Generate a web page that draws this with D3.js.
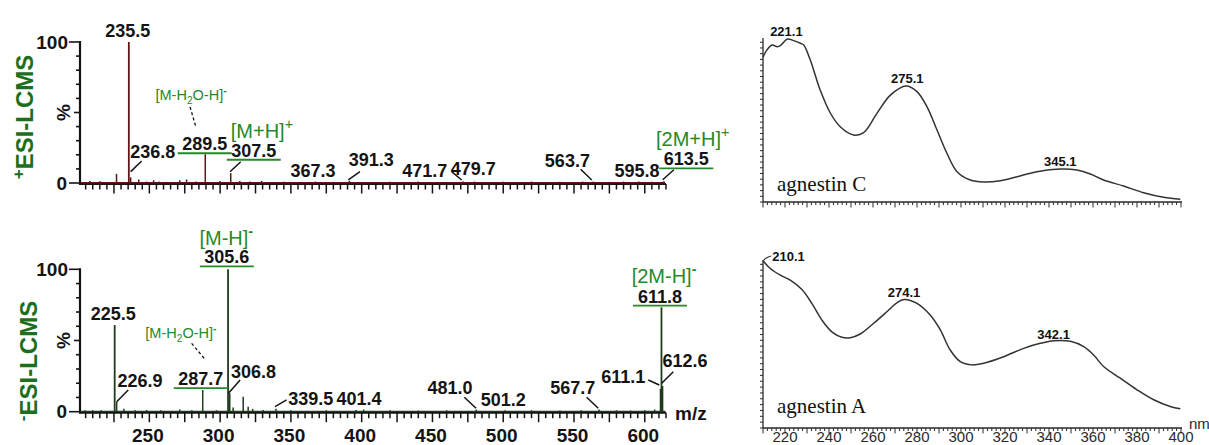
<!DOCTYPE html>
<html><head><meta charset="utf-8">
<script src="https://cdn.jsdelivr.net/npm/d3@7"></script>
<style>
body{margin:0;background:#fff}
svg{display:block}
text{font-family:"Liberation Sans",Arial,Helvetica,sans-serif}
text.serif{font-family:"Liberation Serif","Times New Roman",serif}
</style>
</head><body>
<svg id="c" width="1209" height="445"></svg>
<script>
// ---------------- DATA ----------------
const msTickLabels = [250, 300, 350, 400, 450, 500, 550, 600];
// +ESI labelled peaks [m/z, relative %]
const posPeaks = [[235.5,100],[236.8,4],[289.5,20.4],[307.5,7],[367.3,1],[391.3,1.5],[471.7,1],[479.7,1],[563.7,1],[595.8,1],[613.5,1.2]];
// +ESI unlabelled small peaks
const posNoise = [[207.9,1.5],[215,1.2],[226.8,6.5],[242.5,2.5],[248,1],[253,2],[257,1],[262,0.8],[271.5,2],[276.3,2.5],[283,1],[299.8,1.5],[313.9,1.5],[321,1],[329.3,1.5],[345,0.8],[380,0.8],[420,0.8],[440,1],[500,0.8],[520,1],[540,0.8],[556,1],[575,0.8],[585,1],[605,0.8]];
// -ESI labelled peaks
const negPeaks = [[225.5,60.9],[226.9,7],[287.7,15.2],[305.6,100],[306.8,13],[339.5,2],[401.4,1.5],[481.0,1.5],[501.2,1],[567.7,1.5],[611.1,16],[611.8,73.3],[612.6,18]];
// -ESI unlabelled small peaks
const negNoise = [[204.5,1],[210,1],[216,1],[232,2],[240,1],[248,1.2],[258,1],[271.5,1.5],[280,1],[297.5,1],[309.2,3],[316.3,10.5],[319.8,3.5],[323,2],[330.4,1.2],[350,1],[375,1],[396,1.2],[420,1],[440,0.8],[460,1],[520,1],[540,0.8],[555,1],[580,1],[590,0.8],[600,1],[607,1.5]];

// UV spectra (nm, relative absorbance)
const uvC_nm  = [210,211.8,214.1,216.4,217.9,221.1,223.9,227,228.5,231.5,236,240.6,245.1,251.2,255.7,261.8,267.9,275.1,280,284.5,289.1,293.6,298.2,304.2,310.3,317.9,325.5,334.5,345.1,352.7,358.8,364.8,373.9,383,392.1,399.7];
const uvC_abs = [88.8,93.3,96.3,95.3,95.9,100,99,97.4,96.3,87.1,68.7,54.6,46.2,41.1,42.5,54.4,65.6,71.2,67.7,58.5,44.2,29.9,18.6,13.5,12.3,13.1,15.5,18.6,20.2,19.6,17.2,13.5,9.8,5.7,2.9,1.7];
const uvA_nm  = [210.1,213.3,217.9,222.4,227.7,232.2,236.8,241.3,245.9,249.7,254.2,260.2,266.3,270.8,274.1,280,286,290.6,295.1,299.7,305,310.3,319.4,328.5,336,342.1,349.7,355.8,360.3,364.8,372.4,380,387.6,395.1,399.7];
const uvA_abs = [100,95.5,91.5,88.5,82.9,74.6,64.6,57.6,54.3,54.1,56.3,62.6,69.6,74.9,77,74.6,67.6,58.7,46.7,39.7,37.8,38.8,42.7,47.7,50.7,52.3,51.9,48.7,43.7,36.8,29.8,22.9,16.9,12.9,11.5];
const uvTickLabels = [220,240,260,280,300,320,340,360,380,400];
const uvC_peaks = [221.1, 275.1, 345.1];
const uvA_peaks = [210.1, 274.1, 342.1];

// ---------------- LAYOUT / STYLE ----------------
const GREEN = "#23892a", DKGREEN = "#1d6f1d", POSCOL = "#641414", NEGCOL = "#1e3b1e", INK = "#141414";
const svg = d3.select("#c");

// label offsets relative to peak top (layout only)
const posLayout = {
  "235.5":{dx:-1,dy:-5},
  "236.8":{dx:22,dy:-19,lead:[0,-5.7,11,-16.4]},
  "289.5":{dx:-0.5,dy:-4,ul:true,ion:{parts:"mh2o",dx:-13.7,dy:-50,anchor:"middle",size:14.5},dash:[-14.7,-43.3,-8.7,-22.7]},
  "307.5":{dx:23,dy:-16.4,lead:[-0.7,-1.4,10,-11.4],ul:true,ion:{parts:"mph",dx:-23,dy:-18.4,anchor:"start",size:20}},
  "367.3":{dx:-2.4,dy:-5},
  "391.3":{dx:22,dy:-15.2,lead:[-1,-1,10.6,-9.2]},
  "471.7":{dx:-38.5,dy:-5,lead:[-11.5,-9.9,-1.5,-1.6]},
  "479.7":{dx:-1.2,dy:-6.6},
  "563.7":{dx:-26,dy:-14.3,lead:[-12.7,-12.3,-1.7,-1.6]},
  "595.8":{dx:-1.8,dy:-5},
  "613.5":{dx:22.4,dy:-15.9,lead:[-1.2,-1.6,10,-11.6],ul:true,ion:{parts:"2mph",dx:-30.3,dy:-19,anchor:"start",size:20}}
};
const negLayout = {
  "225.5":{dx:-1.4,dy:-5},
  "226.9":{dx:23.3,dy:-15,lead:[0,0,11.6,-11.7]},
  "287.7":{dx:-2,dy:-5,ul:true,ion:{parts:"mh2o",dx:-19.8,dy:-46.7,anchor:"middle",size:14.5},dash:[-9.1,-41.7,4.9,-25]},
  "305.6":{dx:-1.2,dy:-6,ul:true,ion:{parts:"mmh",dx:-27.4,dy:-18.8,anchor:"start",size:20}},
  "306.8":{dx:23.7,dy:-14.9,lead:[-1.3,0,10.4,-13.2]},
  "339.5":{dx:34.8,dy:-3.9,lead:[-1,-2.2,10.6,-8.9]},
  "401.4":{dx:-4.7,dy:-4.6},
  "481.0":{dx:-26.3,dy:-15.3,lead:[-12,-12.3,-0.3,-1.3]},
  "501.2":{dx:-1.6,dy:-4.3},
  "567.7":{dx:-26.3,dy:-15.3,lead:[-12.4,-12.3,-0.8,-1.3]},
  "611.1":{dx:-37.2,dy:-5.6,lead:[-12.2,-8.9,-1.2,-3.9]},
  "611.8":{dx:-1.5,dy:-4.6,ul:true,ion:{parts:"2mmh",dx:-28.3,dy:-19.4,anchor:"start",size:20}},
  "612.6":{dx:22.4,dy:-19.4,lead:[-0.9,-2.8,10.7,-14.4]}
};

function ionText(g, x, y, kind, anchor, size){
  const t = g.append("text").attr("x",x).attr("y",y).attr("text-anchor",anchor)
    .attr("fill",GREEN).attr("font-size",size);
  const sub = size*0.7, sup = size*0.72;
  if(kind==="mh2o"){
    t.append("tspan").text("[M-H");
    t.append("tspan").attr("font-size",sub).attr("dy",size*0.28).text("2");
    t.append("tspan").attr("dy",-size*0.28).text("O-H]");
    t.append("tspan").attr("font-size",sup).attr("font-weight","bold").attr("dy",-size*0.42).text("-");
  } else {
    const base = {mph:"[M+H]",mmh:"[M-H]","2mph":"[2M+H]","2mmh":"[2M-H]"}[kind];
    const s = (kind==="mph"||kind==="2mph") ? "+" : "-";
    t.append("tspan").text(base);
    t.append("tspan").attr("font-size",sup).attr("font-weight", s==="-"?"bold":"normal").attr("dy",-size*0.45).text(s);
  }
}

function msPanel(cfg){
  const x = d3.scaleLinear().domain([201,615]).range([80,666]);
  const y = d3.scaleLinear().domain([0,100]).range([cfg.y0, cfg.y100]);
  const g = svg.append("g");
  // y axis ticks
  const yt = d3.range(0,101,10);
  g.selectAll(null).data(yt).enter().append("line")
    .attr("x1",80).attr("x2",d=> d===0||d===100 ? 69 : (d===50?74:76))
    .attr("y1",d=>y(d)).attr("y2",d=>y(d)).attr("stroke",INK).attr("stroke-width",1.6);
  g.append("line").attr("x1",80).attr("x2",80).attr("y1",y(100)-1).attr("y2",y(0)+1.5)
    .attr("stroke",INK).attr("stroke-width",2.2);
  g.append("text").attr("x",68).attr("y",y(100)+6.5).attr("text-anchor","end")
    .attr("font-size",19).attr("font-weight","bold").attr("fill",INK).text("100");
  g.append("text").attr("x",67).attr("y",y(0)+6.5).attr("text-anchor","end")
    .attr("font-size",19).attr("font-weight","bold").attr("fill",INK).text("0");
  g.append("text").attr("transform",`translate(${70},${y(50)}) rotate(-90)`).attr("text-anchor","middle")
    .attr("font-size",19).attr("font-weight","bold").attr("fill",INK).text("%");
  // x axis
  const axY = y(0)+1;
  const minor = d3.range(205,615.1,5);
  g.selectAll(null).data(minor).enter().append("line")
    .attr("x1",d=>x(d)).attr("x2",d=>x(d)).attr("y1",axY)
    .attr("y2",d=> d%25===0 ? axY+9.5 : axY+5.5).attr("stroke",INK).attr("stroke-width",1.5);
  g.append("line").attr("x1",79).attr("x2",666).attr("y1",axY).attr("y2",axY).attr("stroke",INK).attr("stroke-width",2.2);
  // baseline of spectrum
  g.append("line").attr("x1",81).attr("x2",665).attr("y1",y(0)-0.3).attr("y2",y(0)-0.3).attr("stroke",cfg.color).attr("stroke-width",1.4);
  if(cfg.tickLabels){
    g.selectAll(null).data(msTickLabels).enter().append("text")
      .attr("x",d=>x(d)-1.5).attr("y",441.7).attr("text-anchor","middle")
      .attr("font-size",19).attr("font-weight","bold").attr("fill",INK).text(d=>d);
    g.append("text").attr("x",675).attr("y",419.5).attr("font-size",19).attr("font-weight","bold").attr("fill",INK).text("m/z");
  }
  // peaks
  const all = cfg.noise.concat(cfg.peaks);
  g.selectAll(null).data(all).enter().append("line")
    .attr("x1",d=>x(d[0])).attr("x2",d=>x(d[0])).attr("y1",y(0)).attr("y2",d=>y(d[1]))
    .attr("stroke",cfg.color).attr("stroke-width",d=>d[1]>30?1.8:1.5);
  // labels
  cfg.peaks.forEach(p=>{
    const key = p[0].toFixed(1), L = cfg.layout[key];
    if(!L) return;
    const px = x(p[0]), py = y(p[1]);
    const lx = px+L.dx, ly = py+L.dy;
    g.append("text").attr("x",lx).attr("y",ly).attr("text-anchor","middle")
      .attr("font-size",18).attr("font-weight","bold").attr("fill",INK).text(key);
    if(L.lead){
      g.append("line").attr("x1",px+L.lead[0]).attr("y1",py+L.lead[1]).attr("x2",px+L.lead[2]).attr("y2",py+L.lead[3])
        .attr("stroke",INK).attr("stroke-width",1.5);
    }
    if(L.ul){
      g.append("line").attr("x1",lx-27).attr("x2",lx+27).attr("y1",ly+3).attr("y2",ly+3)
        .attr("stroke",GREEN).attr("stroke-width",1.8);
    }
    if(L.ion){
      ionText(g, lx+L.ion.dx, ly+L.ion.dy, L.ion.parts, L.ion.anchor, L.ion.size);
    }
    if(L.dash){
      g.append("line").attr("x1",lx+L.dash[0]).attr("y1",ly+L.dash[1]).attr("x2",lx+L.dash[2]).attr("y2",ly+L.dash[3])
        .attr("stroke",INK).attr("stroke-width",1.3).attr("stroke-dasharray","3,2.5");
    }
  });
  // side label
  const s = svg.append("text").attr("transform",`translate(${cfg.sideX},${cfg.sideY}) rotate(-90)`)
    .attr("text-anchor","middle").attr("font-size",24).attr("font-weight","bold").attr("fill",DKGREEN);
  s.append("tspan").attr("font-size",17).attr("dy",-9).text(cfg.sign);
  s.append("tspan").attr("dy",9).text("ESI-LCMS");
}

msPanel({y0:183, y100:42, color:POSCOL, peaks:posPeaks, noise:posNoise, layout:posLayout, tickLabels:false, sideX:33, sideY:117, sign:"+"});
msPanel({y0:411.7, y100:269.3, color:NEGCOL, peaks:negPeaks, noise:negNoise, layout:negLayout, tickLabels:true, sideX:37, sideY:361, sign:"-"});

// ---------------- UV panels ----------------
function uvPanel(cfg){
  const x = d3.scaleLinear().domain([210,400]).range([763,1181]);
  const y = d3.scaleLinear().domain([0,100]).range([cfg.yb, cfg.yt]);
  const g = svg.append("g");
  const AX = "#2a2a2a";
  // y ticks
  g.selectAll(null).data(d3.range(0,100.1,3.5)).enter().append("line")
    .attr("x1",760).attr("x2",763).attr("y1",d=>y(d)).attr("y2",d=>y(d)).attr("stroke",AX).attr("stroke-width",1);
  g.append("line").attr("x1",763).attr("x2",763).attr("y1",cfg.yt-1).attr("y2",cfg.yb).attr("stroke",AX).attr("stroke-width",1.3);
  // x ticks
  g.selectAll(null).data(d3.range(210,400.1,2)).enter().append("line")
    .attr("x1",d=>x(d)).attr("x2",d=>x(d)).attr("y1",cfg.yb)
    .attr("y2",d=> (Math.round(d)%10===0) ? cfg.yb+5.5 : cfg.yb+3).attr("stroke",AX).attr("stroke-width",1);
  g.append("line").attr("x1",763).attr("x2",1182).attr("y1",cfg.yb).attr("y2",cfg.yb).attr("stroke",AX).attr("stroke-width",1.3);
  if(cfg.tickLabels){
    g.selectAll(null).data(uvTickLabels).enter().append("text")
      .attr("x",d=>x(d)).attr("y",441.5).attr("text-anchor","middle").attr("font-size",15).attr("fill",AX).text(d=>d);
    g.append("text").attr("x",1189).attr("y",428.5).attr("font-size",15).attr("fill",AX).text("nm");
  }
  const line = d3.line().x((d,i)=>x(cfg.nm[i])).y((d,i)=>y(cfg.abs[i])).curve(d3.curveCatmullRom.alpha(0.5));
  g.append("path").datum(cfg.abs).attr("d",line).attr("fill","none").attr("stroke","#333").attr("stroke-width",1.5);
  // peak labels
  cfg.peaks.forEach((p,k)=>{
    const i = cfg.nm.findIndex(v=>Math.abs(v-p)<0.05);
    const px = x(p), py = y(cfg.abs[i]);
    const L = cfg.labelOff[k];
    g.append("text").attr("x",px+L[0]).attr("y",py+L[1]).attr("text-anchor",L[2])
      .attr("font-size",13).attr("font-weight","bold").attr("fill","#111").text(p.toFixed(1));
    if(L[3]){
      g.append("path").attr("d",`M${px},${py} q3,-4 8,-5`).attr("fill","none").attr("stroke","#333").attr("stroke-width",1.2);
    }
  });
  g.append("text").attr("class","serif").attr("x",777).attr("y",cfg.nameY)
    .attr("font-size",21).attr("fill","#111").text(cfg.name);
}
uvPanel({yt:39, yb:202, nm:uvC_nm, abs:uvC_abs, peaks:uvC_peaks, tickLabels:false, name:"agnestin C", nameY:191,
  labelOff:[[-1,-3,"middle",false],[1,-3,"middle",false],[0,-3,"middle",false]]});
uvPanel({yt:261, yb:428, nm:uvA_nm, abs:uvA_abs, peaks:uvA_peaks, tickLabels:true, name:"agnestin A", nameY:413,
  labelOff:[[9,-0.5,"start",true],[0,-2.5,"middle",false],[0,-2,"middle",false]]});
</script>
</body></html>
